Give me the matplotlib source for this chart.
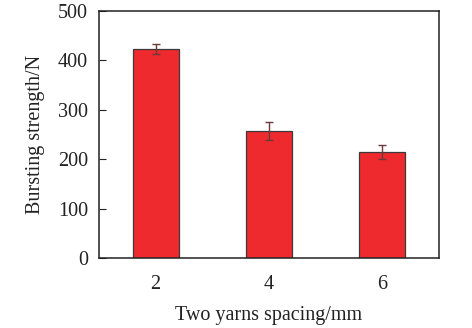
import numpy as np
import matplotlib.pyplot as plt

plt.rcParams['font.family'] = 'Liberation Serif'

spacing = ['2', '4', '6']
strength = [423, 257, 214]
err = [11, 19, 14]

fig = plt.figure(figsize=(4.72, 3.28), dpi=100)
ax = fig.add_axes([99/472, 70/328, 340/472, 247/328])

x = np.arange(len(spacing))
ax.bar(x, strength, width=0.405, color='#ee2a2e', edgecolor='#3a3a3a', linewidth=0.9,
       yerr=err, error_kw=dict(ecolor='#6a3a3a', elinewidth=1.0, capsize=3, capthick=1.0))

ax.set_xlim(-0.5, 2.5)
ax.set_ylim(0, 500)
ax.set_yticks([0, 100, 200, 300, 400, 500])
ax.set_xticks(x)
ax.set_xticklabels(spacing)
ax.tick_params(axis='y', direction='in', length=5, width=0.8, labelsize=14.5, pad=8, colors='#222222')
ax.tick_params(axis='x', length=0, labelsize=14.5, pad=12, colors='#222222')
for s in ax.spines.values():
    s.set_linewidth(1.1)
    s.set_color('#222222')

ax.set_xlabel('Two yarns spacing/mm', fontsize=14.5, labelpad=9, color='#222222')
ax.set_ylabel('Bursting strength/N', fontsize=14.5, labelpad=9, color='#222222')

fig.savefig('out.png', dpi=100)
